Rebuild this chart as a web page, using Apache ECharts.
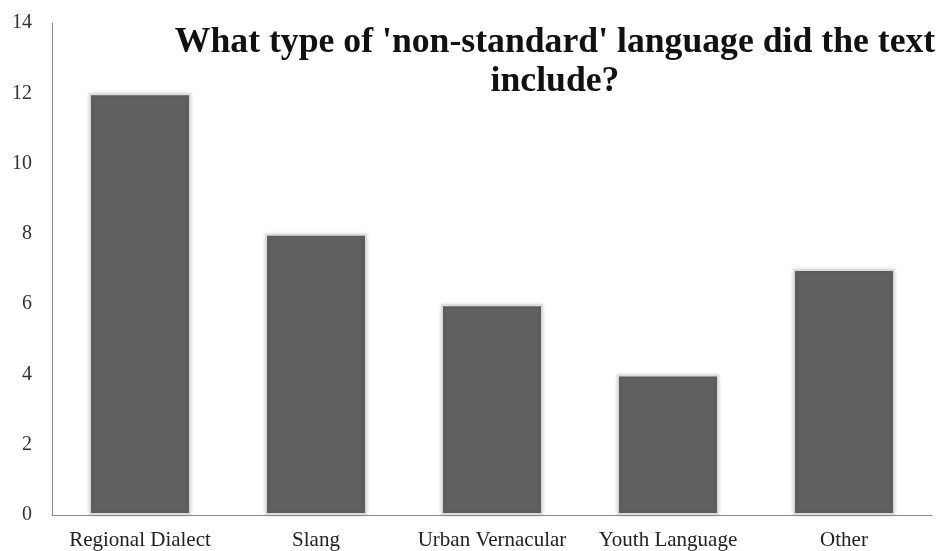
<!DOCTYPE html>
<html>
<head>
<meta charset="utf-8">
<script src="https://cdn.jsdelivr.net/npm/echarts@6/dist/echarts.min.js"></script>
<style>
  html, body { margin: 0; padding: 0; background: #fff; }
  #chart { width: 937px; height: 551px; }
</style>
</head>
<body>
<div id="chart"></div>
<script>
// Survey responses: kinds of non-standard language found in texts
const categories = ['Regional Dialect', 'Slang', 'Urban Vernacular', 'Youth Language', 'Other'];
const counts = [12, 8, 6, 4, 7];
const yTicks = { min: 0, max: 14, interval: 2 };

const serif = '"Liberation Serif", "DejaVu Serif", serif';

const chart = echarts.init(document.getElementById('chart'), null, { renderer: 'canvas' });
chart.setOption({
  backgroundColor: '#ffffff',
  animation: false,
  title: {
    text: "What type of 'non-standard' language did the text\ninclude?",
    left: 550,
    top: 18,
    textAlign: 'center',
    textStyle: {
      fontFamily: serif,
      fontWeight: 'bold',
      fontSize: 35.7,
      lineHeight: 39,
      color: '#111'
    }
  },
  grid: { left: 52, right: 5, top: 23, bottom: 36 },
  xAxis: {
    type: 'category',
    data: categories,
    axisLine: { show: true, lineStyle: { color: '#8c8c8c', width: 1 } },
    axisTick: { show: false },
    axisLabel: {
      fontFamily: serif,
      fontSize: 21,
      color: '#222',
      margin: 15,
      interval: 0
    }
  },
  yAxis: {
    type: 'value',
    min: yTicks.min,
    max: yTicks.max,
    interval: yTicks.interval,
    axisLine: { show: true, lineStyle: { color: '#8c8c8c', width: 1 } },
    axisTick: { show: false },
    splitLine: { show: false },
    axisLabel: {
      fontFamily: serif,
      fontSize: 20,
      color: '#333',
      margin: 20
    }
  },
  series: [{
    type: 'bar',
    data: counts,
    barWidth: 102,
    itemStyle: {
      color: '#606060',
      borderColor: '#dcdcdc',
      borderWidth: 2,
      shadowColor: 'rgba(0,0,0,0.12)',
      shadowBlur: 4
    }
  }]
});
</script>
</body>
</html>
